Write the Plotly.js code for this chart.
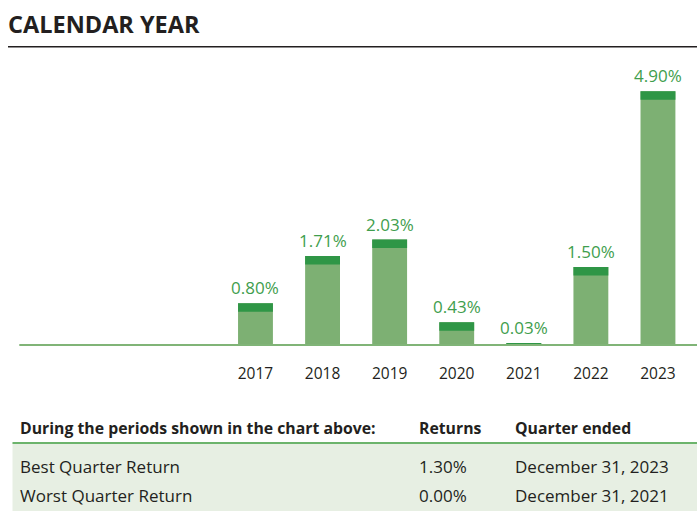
<!DOCTYPE html>
<html>
<head>
<meta charset="utf-8">
<script src="https://cdn.plot.ly/plotly-3.0.1.min.js"></script>
<style>
html,body{margin:0;padding:0;background:#fff;}
#chart{width:697px;height:511px;}
</style>
</head>
<body>
<div id="chart"></div>
<script>
// ---- data ----
const years = ['2014','2015','2016','2017','2018','2019','2020','2021','2022','2023'];
const tickLabels = ['','','','2017','2018','2019','2020','2021','2022','2023'];
const returns = [null,null,null,0.80,1.71,2.03,0.43,0.03,1.50,4.90];
const valueLabels = ['','','','0.80%','1.71%','2.03%','0.43%','0.03%','1.50%','4.90%'];

const tableHeader = ['During the periods shown in the chart above:','Returns','Quarter ended'];
const rowLabels = ['Best Quarter Return','Worst Quarter Return'];
const rowReturns = ['1.30%','0.00%'];
const rowDates = ['December 31, 2023','December 31, 2021'];

// ---- layout helpers (pixel -> paper, margins are 0) ----
const W = 697, H = 511;
const px = x => x / W;
const py = y => 1 - y / H;

const capUnits = 0.165; // thickness of the dark top band, in axis units
const capH = returns.map(v => v == null ? null : Math.min(v, capUnits));
const capBase = returns.map((v, i) => v == null ? null : v - capH[i]);

const FONT = '"Open Sans", "Noto Sans", sans-serif';

const body = {
  type: 'bar', x: years, y: returns,
  marker: {color: '#7db073', line: {width: 0}},
  hoverinfo: 'skip', showlegend: false
};
const cap = {
  type: 'bar', x: years, y: capH, base: capBase,
  marker: {color: '#2f9646', line: {width: 0}},
  hoverinfo: 'skip', showlegend: false
};

const yTop = 70, yBottom = 344.5, pxPerUnit = 51.7;

const layout = {
  width: W, height: H,
  margin: {l: 0, r: 0, t: 0, b: 0},
  paper_bgcolor: '#fff', plot_bgcolor: 'rgba(0,0,0,0)',
  barmode: 'overlay', bargap: 0.48,
  font: {family: FONT, color: '#231f20'},
  xaxis: {
    domain: [px(20.7), px(691.5)],
    type: 'category', categoryorder: 'array', categoryarray: years,
    range: [-0.5, years.length - 0.5], autorange: false,
    tickmode: 'array', tickvals: years, ticktext: tickLabels,
    ticks: 'outside', ticklen: 15, tickcolor: 'rgba(0,0,0,0)',
    tickfont: {family: FONT, size: 15.5, color: '#231f20'},
    showgrid: false, zeroline: false, showline: false, fixedrange: true
  },
  yaxis: {
    domain: [py(yBottom), py(yTop)],
    range: [0, (yBottom - yTop) / pxPerUnit], autorange: false,
    showticklabels: false, showgrid: false, zeroline: false, showline: false, fixedrange: true
  },
  shapes: [
    {type: 'line', xref: 'paper', yref: 'paper', x0: px(8), x1: 1, y0: py(46.7), y1: py(46.7),
     line: {color: '#231f20', width: 1.5}},
    {type: 'line', xref: 'paper', yref: 'paper', x0: px(19.3), x1: 1, y0: py(345), y1: py(345),
     line: {color: '#80b477', width: 2}},
    {type: 'rect', xref: 'paper', yref: 'paper', x0: px(12.5), x1: 1, y0: py(443), y1: 0,
     fillcolor: '#e7efe3', line: {width: 0}, layer: 'below'},
    {type: 'line', xref: 'paper', yref: 'paper', x0: px(12.5), x1: 1, y0: py(443), y1: py(443),
     line: {color: '#6cb46c', width: 2}}
  ],
  annotations: []
};

// value labels above bars (x given as category index)
years.forEach((yr, i) => {
  if (returns[i] == null) return;
  layout.annotations.push({
    xref: 'x', yref: 'y', x: i, y: returns[i],
    xanchor: 'center', yanchor: 'bottom', yshift: 3, showarrow: false,
    text: valueLabels[i], borderpad: 0,
    font: {family: FONT, size: 17, color: '#3f9e4d'}
  });
});

function ann(text, x, y, size, bold, color) {
  layout.annotations.push({
    xref: 'paper', yref: 'paper', x: px(x), y: py(y),
    xanchor: 'left', yanchor: 'middle', showarrow: false,
    text: bold ? '<b>' + text + '</b>' : text,
    font: {family: FONT, size: size, color: color || '#231f20'},
    borderpad: 0
  });
}

ann('CALENDAR YEAR', 7, 24, 23.5, true);
const colX = [19, 418, 514];
tableHeader.forEach((t, i) => ann(t, colX[i], 428, 15.8, true));
const rowY = [466.5, 495];
rowLabels.forEach((t, i) => {
  ann(t, colX[0], rowY[i], 17, false);
  ann(rowReturns[i], colX[1], rowY[i], 17, false);
  ann(rowDates[i], colX[2], rowY[i], 17, false);
});

Plotly.newPlot('chart', [body, cap], layout, {staticPlot: true, displayModeBar: false});
</script>
</body>
</html>
